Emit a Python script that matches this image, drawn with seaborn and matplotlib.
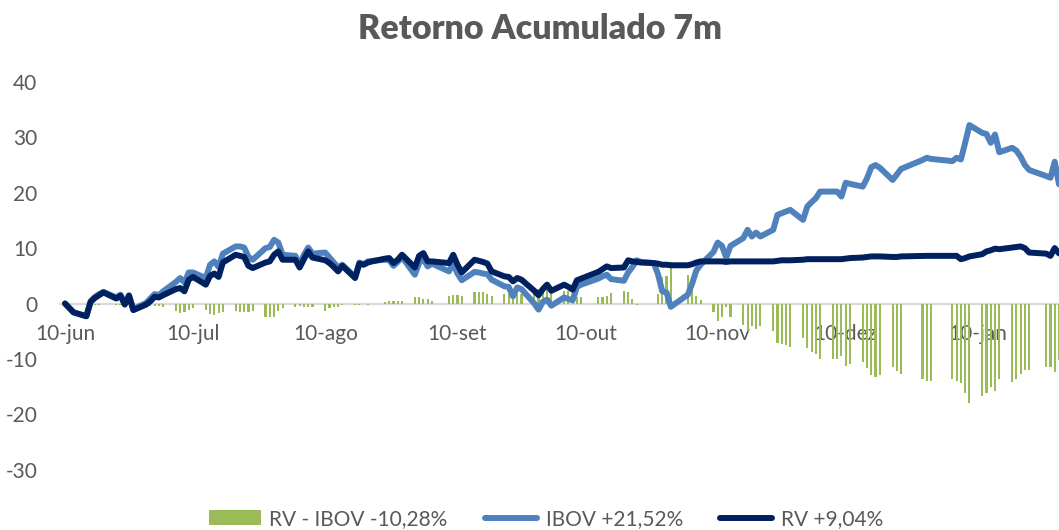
import matplotlib
matplotlib.use("Agg")
import matplotlib.pyplot as plt
from matplotlib.patches import Patch
from matplotlib.lines import Line2D
import seaborn as sns
import pandas as pd

# ---------------- data ----------------
start_date = "2020-06-10"
end_date = "2021-01-29"
market_holidays = ["2020-06-11", "2020-09-07", "2020-10-12", "2020-11-02",
                   "2020-12-24", "2020-12-25", "2020-12-31", "2021-01-01",
                   "2021-01-25"]

ibov = [
    # jun
    0.0, -1.6, -2.3, 0.4, 1.2, 1.7, 2.1, 1.1, 1.6, 0.0, 1.5, -1.0, 0.1, 0.9,
    # jul
    1.7, 1.5, 2.2, 3.9, 4.6, 3.8, 5.6, 5.6, 4.6, 7.0, 7.6, 6.6, 9.0, 10.3, 10.3,
    10.1, 8.4, 7.9, 10.0, 10.2, 11.5, 11.0, 8.8,
    # ago
    8.6, 7.0, 8.8, 10.1, 9.0, 9.2, 8.3, 7.4, 6.5, 7.0, 4.8, 7.4, 7.1, 7.6, 7.7,
    7.9, 7.8, 6.8, 7.5, 8.4, 5.2,
    # set
    7.3, 8.1, 6.7, 7.2, 5.8, 7.2, 5.4, 4.2, 5.7, 5.6, 5.4, 5.3, 4.3, 3.1, 3.0,
    1.3, 2.9, 2.6, 0.0, -1.1, 0.3,
    # out
    0.7, -0.4, 1.1, 0.8, 0.6, 3.0, 3.4, 4.5, 4.9, 5.2, 4.4, 4.1, 5.6, 6.6, 7.8,
    7.5, 7.3, 5.3, 2.2, 2.0, -0.6,
    # nov
    1.6, 3.6, 6.0, 7.0, 9.3, 11.0, 10.4, 8.3, 10.4, 11.8, 13.3, 12.1, 12.8, 12.1,
    13.3, 16.0, 16.3, 16.6, 16.9, 15.1,
    # dez
    17.5, 18.3, 19.0, 20.2, 20.2, 20.2, 19.3, 21.8, 21.6, 21.1, 22.6, 24.6, 25.0,
    24.5, 22.3, 23.3, 24.3, 25.9, 26.3, 26.1,
    # jan
    25.7, 26.3, 26.0, 29.0, 32.2, 30.8, 30.6, 29.0, 30.5, 27.3, 28.1, 27.6, 26.5,
    25.0, 24.1, 23.0, 22.7, 25.6, 21.52,
]

rv = [
    # jun
    0.0, -1.6, -2.3, 0.3, 1.0, 1.5, 2.0, 0.9, 1.4, -0.2, 1.4, -1.2, -0.2, 0.4,
    # jul
    1.2, 1.1, 1.5, 2.6, 2.8, 2.2, 4.3, 4.8, 3.4, 5.0, 5.4, 4.8, 7.4, 8.8, 8.6,
    8.4, 6.8, 6.4, 7.4, 7.6, 8.8, 9.4, 7.9,
    # ago
    7.9, 6.5, 8.0, 9.4, 8.3, 7.8, 7.3, 6.6, 5.8, 6.8, 4.6, 7.2, 7.0, 7.4, 7.6,
    8.1, 8.2, 7.3, 7.9, 8.8, 6.5,
    # set
    8.6, 9.1, 7.6, 7.6, 7.3, 8.8, 7.0, 5.6, 7.9, 7.7, 7.5, 7.2, 5.8, 4.9, 4.8,
    4.0, 4.6, 4.3, 2.3, 1.5, 2.6,
    # out
    3.4, 2.3, 3.4, 3.0, 2.5, 4.2, 4.5, 5.7, 6.2, 6.7, 6.4, 6.5, 7.8, 7.6, 7.5,
    7.4, 7.3, 7.2, 7.0, 7.0, 6.9,
    # nov
    6.9, 7.1, 7.4, 7.6, 7.6, 7.6, 7.6, 7.5, 7.6, 7.6, 7.6, 7.6, 7.6, 7.6, 7.6,
    7.7, 7.8, 7.8, 7.8, 7.9,
    # dez
    8.0, 8.0, 8.0, 8.0, 8.0, 8.0, 8.0, 8.1, 8.2, 8.3, 8.4, 8.5, 8.5, 8.5, 8.4,
    8.4, 8.5, 8.6, 8.6, 8.6,
    # jan
    8.6, 8.6, 8.0, 8.2, 8.5, 8.9, 9.4, 9.6, 9.9, 9.8, 10.1, 10.2, 10.3, 10.0,
    9.2, 9.0, 8.6, 10.0, 9.04,
]

rv_minus_ibov = [
    # jun
    0.0, 0.0, 0.0, -0.1, -0.2, -0.2, -0.1, -0.2, -0.2, -0.2, -0.1, -0.2, -0.3, -0.5,
    # jul
    -0.5, -0.4, -0.7, -1.3, -1.7, -1.5, -1.2, -0.8, -1.1, -1.9, -2.0, -1.7, -1.5,
    -1.4, -1.5, -1.5, -1.5, -1.4, -2.4, -2.4, -2.4, -1.4, -0.8,
    # ago
    -0.6, -0.5, -0.7, -0.6, -0.6, -1.3, -0.9, -0.7, -0.7, -0.2, -0.2, -0.2, -0.1,
    -0.2, -0.1, 0.2, 0.4, 0.5, 0.4, 0.4, 1.2,
    # set
    1.2, 0.9, 0.8, 0.4, 1.4, 1.5, 1.5, 1.3, 2.1, 2.0, 2.0, 1.8, 1.4, 1.7, 1.7,
    2.7, 1.7, 1.7, 2.3, 2.6, 2.3,
    # out
    2.7, 2.7, 2.3, 2.2, 1.9, 1.2, 1.1, 1.1, 1.2, 1.4, 1.9, 2.3, 2.1, 0.9, -0.3,
    -0.1, 0.0, 1.8, 4.7, 4.9, 7.5,
    # nov
    5.2, 3.4, 1.3, 0.6, -1.6, -3.1, -2.5, -0.7, -2.5, -3.8, -5.0, -4.0, -4.6,
    -4.0, -5.0, -7.2, -7.3, -7.5, -7.8, -6.3,
    # dez
    -8.1, -8.7, -9.2, -10.1, -10.1, -10.1, -9.5, -11.2, -11.0, -10.6, -11.6,
    -12.9, -13.2, -12.9, -11.4, -12.1, -12.7, -13.7, -14.0, -13.9,
    # jan
    -13.6, -14.0, -14.3, -16.1, -17.9, -16.7, -16.2, -15.0, -15.8, -13.7, -14.1,
    -13.6, -12.8, -12.0, -12.0, -11.4, -11.5, -12.4, -10.28,
]

tick_dates = ["2020-06-10", "2020-07-10", "2020-08-10", "2020-09-10",
              "2020-10-10", "2020-11-10", "2020-12-10", "2021-01-10"]
tick_labels = ["10-jun", "10-jul", "10-ago", "10-set", "10-out", "10-nov",
               "10-dez", "10-jan"]
y_ticks = [-30, -20, -10, 0, 10, 20, 30, 40]

title = "Retorno Acumulado 7m"
legend_labels = ["RV - IBOV -10,28%", "IBOV +21,52%", "RV +9,04%"]

# ---------------- styling ----------------
GREEN = "#9BBB59"
BLUE = "#4F81BD"
NAVY = "#002060"
GREY_TXT = "#595959"
LW = 4.3

sns.set_theme(style="white")
plt.rcParams["font.family"] = ["Lato", "DejaVu Sans"]
plt.rcParams["axes.unicode_minus"] = False
plt.rcParams["text.color"] = GREY_TXT
plt.rcParams["xtick.color"] = GREY_TXT
plt.rcParams["ytick.color"] = GREY_TXT

dates = pd.bdate_range(start_date, end_date, freq="C", holidays=market_holidays)
df = pd.DataFrame({"data": dates, "ibov": ibov, "rv": rv, "rel": rv_minus_ibov})

W, H = 1059, 530
fig = plt.figure(figsize=(W / 100, H / 100), dpi=100)
ax = fig.add_axes([50 / W, 0, (W - 50) / W, 1])

t0 = pd.Timestamp(start_date)
ax.set_xlim(t0 - pd.Timedelta(days=3.52), t0 + pd.Timedelta(days=233.0))
ax.set_ylim(-40.88, 54.78)

ax.axhline(0, xmin=10 / (W - 50), xmax=1, color="#D9D9D9", lw=1.6, zorder=0.5)
ax.bar(df["data"], df["rel"], width=0.5, color=GREEN, edgecolor="none",
       linewidth=0, zorder=1)
sns.lineplot(data=df, x="data", y="ibov", color=BLUE, linewidth=LW, ax=ax,
             zorder=2, solid_joinstyle="round", solid_capstyle="round")
sns.lineplot(data=df, x="data", y="rv", color=NAVY, linewidth=LW, ax=ax,
             zorder=3, solid_joinstyle="round", solid_capstyle="round")

for s in ax.spines.values():
    s.set_visible(False)
ax.spines["bottom"].set_position(("data", 0))
ax.set_xticks(pd.to_datetime(tick_dates))
ax.set_xticklabels(tick_labels, fontsize=15)
ax.set_yticks(y_ticks)
ax.set_yticklabels([str(v) for v in y_ticks], fontsize=15)
ax.tick_params(axis="x", length=0, pad=14.5)
ax.tick_params(axis="y", length=0, pad=9)
ax.xaxis.set_zorder(0.4)
ax.set_xlabel("")
ax.set_ylabel("")
ax.grid(False)
ax.patch.set_alpha(0)

fig.text(540 / W, 1 - 29 / H, title, ha="center", va="center",
         fontsize=24.5, fontweight="heavy", color=GREY_TXT)

handles = [Patch(facecolor=GREEN, edgecolor="none"),
           Line2D([], [], color=BLUE, lw=LW, solid_capstyle="round"),
           Line2D([], [], color=NAVY, lw=LW, solid_capstyle="round")]
fig.legend(handles, legend_labels, loc="center", ncol=3,
           bbox_to_anchor=(546 / W, 11 / H), frameon=False, fontsize=15,
           handlelength=2.5, handleheight=0.7, handletextpad=0.4,
           columnspacing=1.8, borderaxespad=0, borderpad=0)

fig.savefig("out.png", dpi=100)
